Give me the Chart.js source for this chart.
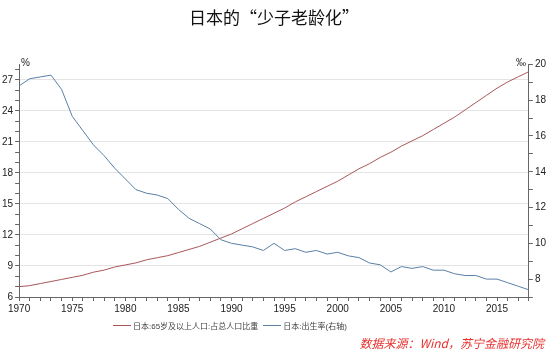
<!DOCTYPE html>
<html>
<head>
<meta charset="utf-8">
<script src="https://cdn.jsdelivr.net/npm/chart.js@4.4.1/dist/chart.umd.min.js"></script>
<style>
  html, body { margin: 0; padding: 0; background: #fff; }
  #wrap { position: relative; width: 550px; height: 352px; }
  #chart { position: absolute; left: 0; top: 0; }
  .unit { position: absolute; font: 10px "Liberation Sans", "Noto Sans CJK SC", sans-serif; color: #222; }
  #legend {
    position: absolute; left: 113px; top: 319px; height: 12px;
    display: flex; align-items: center;
    font: 8px "Liberation Sans", "Noto Sans CJK SC", sans-serif; color: #444; white-space: nowrap;
  }
  #legend .sw { display: inline-block; width: 18px; height: 1px; margin-right: 2px; }
  #legend .item { display: flex; align-items: center; margin-right: 5px; }
  #source {
    position: absolute; right: 6px; top: 334px;
    font: italic 12px "Noto Sans CJK SC", sans-serif; color: #e8322f;
  }
</style>
</head>
<body>
<div id="wrap">
  <canvas id="chart" width="550" height="352"></canvas>
  <div class="unit" style="left:21px;top:57px;">%</div>
  <div class="unit" style="left:516px;top:57px;">‰</div>
  <div id="legend"></div>
  <div id="source">数据来源：Wind，苏宁金融研究院</div>
</div>
<script>
// Years on the x axis
const years = [
  1970, 1971, 1972, 1973, 1974, 1975, 1976, 1977, 1978, 1979,
  1980, 1981, 1982, 1983, 1984, 1985, 1986, 1987, 1988, 1989,
  1990, 1991, 1992, 1993, 1994, 1995, 1996, 1997, 1998, 1999,
  2000, 2001, 2002, 2003, 2004, 2005, 2006, 2007, 2008, 2009,
  2010, 2011, 2012, 2013, 2014, 2015, 2016, 2017, 2018,
];

// Share of population aged 65+ (%), left axis
const aged65 = [
  7.0, 7.1, 7.3, 7.5, 7.7, 7.9, 8.1, 8.4, 8.6, 8.9,
  9.1, 9.3, 9.6, 9.8, 10.0, 10.3, 10.6, 10.9, 11.3, 11.7,
  12.1, 12.6, 13.1, 13.6, 14.1, 14.6, 15.2, 15.7, 16.2, 16.7,
  17.2, 17.8, 18.4, 18.9, 19.5, 20.0, 20.6, 21.1, 21.6, 22.2,
  22.8, 23.4, 24.1, 24.8, 25.5, 26.2, 26.8, 27.3, 27.8,
];

// Birth rate (‰), right axis
const birthRate = [
  18.8, 19.2, 19.3, 19.4, 18.6, 17.1, 16.3, 15.5, 14.9, 14.2,
  13.6, 13.0, 12.8, 12.7, 12.5, 11.9, 11.4, 11.1, 10.8, 10.2,
  10.0, 9.9, 9.8, 9.6, 10.0, 9.6, 9.7, 9.5, 9.6, 9.4,
  9.5, 9.3, 9.2, 8.9, 8.8, 8.4, 8.7, 8.6, 8.7, 8.5,
  8.5, 8.3, 8.2, 8.2, 8.0, 8.0, 7.8, 7.6, 7.4,
];

const seriesNames = ["日本:65岁及以上人口:占总人口比重", "日本:出生率(右轴)"];
const leftLabelEvery = 3;   // 6, 9, ..., 27
const rightLabelEvery = 2;  // 8, 10, ..., 20
const xLabelEvery = 5;      // 1970, 1975, ...

const FONT = "'Liberation Sans', 'Noto Sans CJK SC', sans-serif";
const RED = "#a9575a";
const BLUE = "#5a80a6";
const AXIS = "#666";

function integerTicks(from, to) {
  const t = [];
  for (let v = from; v <= to; v++) t.push({ value: v });
  return t;
}

const ctx = document.getElementById("chart").getContext("2d");
const chart = new Chart(ctx, {
  type: "line",
  data: {
    datasets: [
      {
        label: seriesNames[0],
        data: years.map((y, i) => ({ x: y, y: aged65[i] })),
        borderColor: RED,
        backgroundColor: RED,
        borderWidth: 1,
        pointRadius: 0,
        tension: 0,
        yAxisID: "y",
      },
      {
        label: seriesNames[1],
        data: years.map((y, i) => ({ x: y, y: birthRate[i] })),
        borderColor: BLUE,
        backgroundColor: BLUE,
        borderWidth: 1,
        pointRadius: 0,
        tension: 0,
        yAxisID: "y1",
      },
    ],
  },
  options: {
    responsive: false,
    animation: false,
    layout: { padding: { left: 0, right: 2, top: 0, bottom: 35 } },
    plugins: {
      title: {
        display: true,
        text: "日本的“少子老龄化”",
        color: "#111",
        font: { family: "'Noto Sans CJK SC', sans-serif", size: 17, weight: "normal" },
        padding: { top: 7, bottom: 37 },
      },
      legend: { display: false },
      tooltip: { enabled: false },
    },
    scales: {
      x: {
        type: "linear",
        min: 1970,
        max: 2018,
        afterBuildTicks: (scale) => { scale.ticks = integerTicks(1970, 2018); },
        ticks: {
          autoSkip: false,
          maxRotation: 0,
          color: "#222",
          padding: 2,
          font: { family: FONT, size: 10 },
          callback: (v) => (v % xLabelEvery === 0 ? String(v) : ""),
        },
        grid: { drawOnChartArea: false, tickLength: 4, tickColor: AXIS },
        border: { color: AXIS },
      },
      y: {
        position: "left",
        min: 6,
        max: 28.5,
        afterBuildTicks: (scale) => { scale.ticks = integerTicks(6, 28); },
        ticks: {
          autoSkip: false,
          color: "#222",
          padding: 2,
          font: { family: FONT, size: 10 },
          callback: (v) => (v % leftLabelEvery === 0 ? String(v) : ""),
        },
        grid: {
          tickLength: 4,
          tickColor: AXIS,
          color: (c) => (c.tick && c.tick.value % leftLabelEvery === 0 && c.tick.value > 6 ? "#e4e4e4" : "rgba(0,0,0,0)"),
        },
        border: { color: AXIS },
      },
      y1: {
        position: "right",
        min: 7,
        max: 20,
        afterBuildTicks: (scale) => { scale.ticks = integerTicks(7, 20); },
        ticks: {
          autoSkip: false,
          color: "#222",
          padding: 2,
          font: { family: FONT, size: 10 },
          callback: (v) => (v % rightLabelEvery === 0 ? String(v) : ""),
        },
        grid: { drawOnChartArea: false, tickLength: 4, tickColor: AXIS },
        border: { color: AXIS },
      },
    },
  },
});

// HTML legend built from the datasets
const legendEl = document.getElementById("legend");
chart.data.datasets.forEach((ds) => {
  const item = document.createElement("span");
  item.className = "item";
  const sw = document.createElement("span");
  sw.className = "sw";
  sw.style.background = ds.borderColor;
  item.appendChild(sw);
  item.appendChild(document.createTextNode(ds.label));
  legendEl.appendChild(item);
});
</script>
</body>
</html>
